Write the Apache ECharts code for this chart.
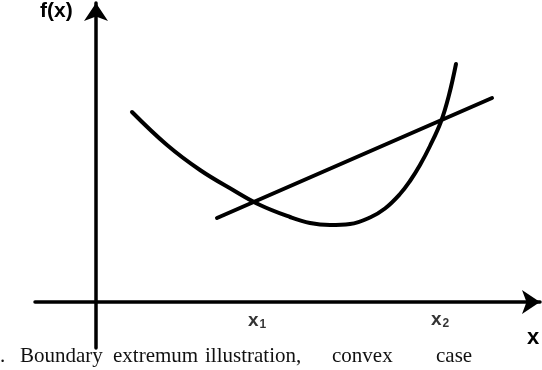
<!DOCTYPE html>
<html>
<head>
<meta charset="utf-8">
<script src="https://cdn.jsdelivr.net/npm/echarts@6/dist/echarts.min.js"></script>
<style>
  html, body { margin: 0; padding: 0; background: #fff; }
  #main { width: 542px; height: 370px; }
</style>
</head>
<body>
<div id="main"></div>
<script>
// convex function f(x) (axis units)
let curveX = [0.72, 1.42, 2.08, 2.74, 3.28, 3.88, 4.28, 4.68, 5.08, 5.48, 5.78, 6.08, 6.28, 6.48, 6.68, 6.90, 7.06, 7.20];
let curveY = [3.80, 3.14, 2.64, 2.24, 1.94, 1.70, 1.58, 1.54, 1.56, 1.69, 1.87, 2.16, 2.42, 2.74, 3.12, 3.61, 4.14, 4.76];

// the straight chord
let chordX = [2.42, 7.92];
let chordY = [1.68, 4.08];

// marks on the x axis
let tickNames = ['1', '2'];
let tickX = [3.22, 6.88];
let tickY = [-0.38, -0.36];

// caption words
let captionWords = ['.', 'Boundary', 'extremum', 'illustration,', 'convex', 'case'];

function pairs(xs, ys) {
    let out = [];
    for (let i = 0; i < xs.length; i = i + 1) {
        out.push([xs[i], ys[i]]);
    }
    return out;
}

var myChart = echarts.init(document.getElementById('main'));

var axisLook = {
    show: true,
    onZero: true,
    symbol: ['none', 'arrow'],
    symbolSize: [18, 18],
    lineStyle: { color: '#000', width: 3.5 }
};

// where each caption word starts (the line is spread out in the figure)
var captionLeft = [0, 20, 113, 205, 332, 436];
var caption = captionWords.map(function (w, i) {
    return {
        type: 'text', x: captionLeft[i], y: 346,
        style: { text: w, font: '21px "Liberation Serif"', fill: '#111', verticalAlign: 'top' }
    };
});

var option = {
    animation: false,
    backgroundColor: '#fff',
    grid: { left: 35, right: 2, top: 3, bottom: 22 },
    xAxis: {
        type: 'value',
        min: -1.22,
        max: 8.88,
        axisLine: axisLook,
        axisTick: { show: false },
        axisLabel: { show: false },
        splitLine: { show: false }
    },
    yAxis: {
        type: 'value',
        min: -0.92,
        max: 5.98,
        axisLine: axisLook,
        axisTick: { show: false },
        axisLabel: { show: false },
        splitLine: { show: false }
    },
    series: [
        {
            type: 'line',
            data: pairs(curveX, curveY),
            smooth: 0.4,
            showSymbol: false,
            lineStyle: { color: '#000', width: 4, cap: 'round' }
        },
        {
            type: 'line',
            data: pairs(chordX, chordY),
            showSymbol: false,
            lineStyle: { color: '#000', width: 4, cap: 'round' }
        },
        {
            type: 'scatter',
            symbolSize: 0,
            data: pairs(tickX, tickY).map(function (p, i) {
                return { value: p, name: tickNames[i] };
            }),
            label: {
                show: true,
                position: 'inside',
                formatter: function (p) { return '{b|x}{s|' + p.name + '}'; },
                rich: {
                    b: { fontFamily: 'Liberation Sans', fontWeight: 'bold', fontSize: 19, color: '#000' },
                    s: { fontFamily: 'Liberation Sans', fontWeight: 'bold', fontSize: 12, color: '#000', padding: [8, 0, 0, 1] }
                }
            }
        }
    ],
    graphic: [
        {
            type: 'text', left: 40, top: 1,
            style: { text: 'f(x)', font: 'bold 21px "Liberation Sans"', fill: '#000' }
        },
        {
            type: 'text', left: 527, top: 327,
            style: { text: 'x', font: 'bold 22px "Liberation Sans"', fill: '#000' }
        }
    ].concat(caption)
};

myChart.setOption(option);
</script>
</body>
</html>
